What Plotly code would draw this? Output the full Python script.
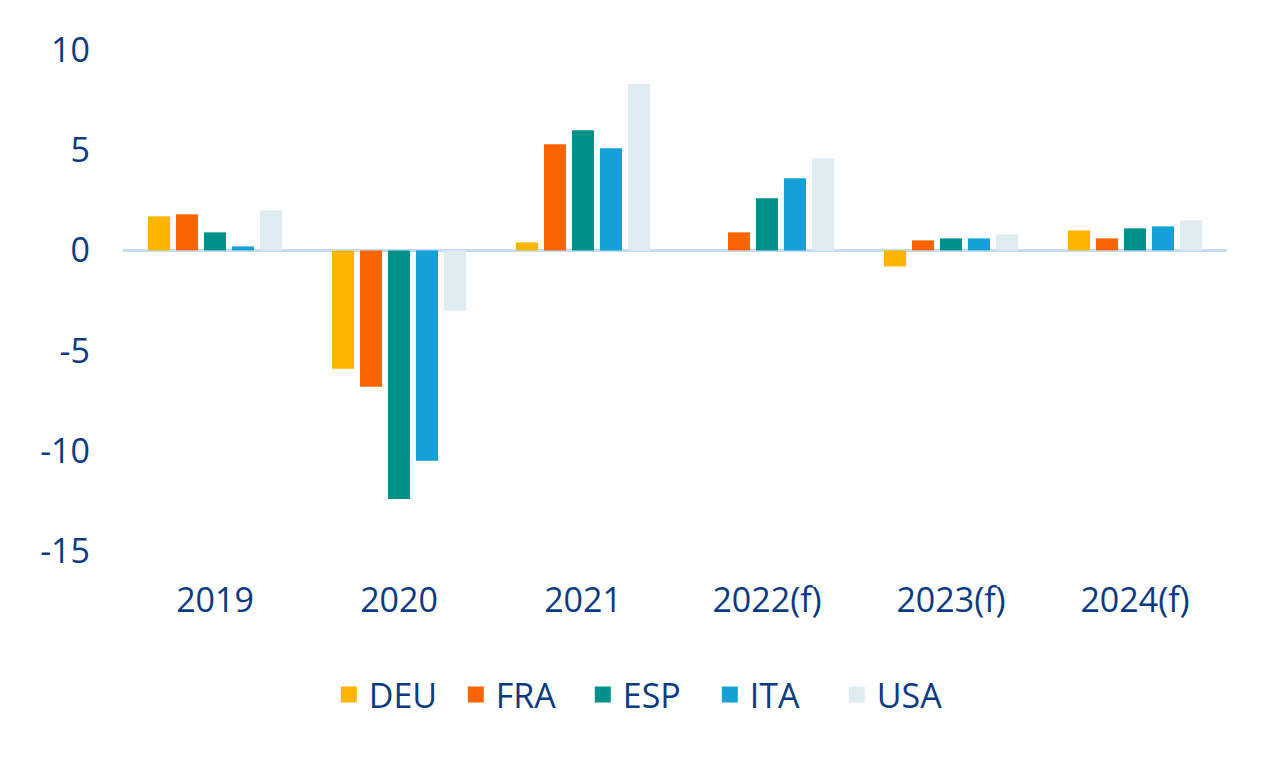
import plotly.graph_objects as go

categories = ["2019", "2020", "2021", "2022(f)", "2023(f)", "2024(f)"]
deu = [1.7, -5.9, 0.4, 0.0, -0.8, 1.0]
fra = [1.8, -6.8, 5.3, 0.9, 0.5, 0.6]
esp = [0.9, -12.4, 6.0, 2.6, 0.6, 1.1]
ita = [0.2, -10.5, 5.1, 3.6, 0.6, 1.2]
usa = [2.0, -3.0, 8.3, 4.6, 0.8, 1.5]
series_names = ["DEU", "FRA", "ESP", "ITA", "USA"]
colors = ["#FDB600", "#F96300", "#00918A", "#13A1D6", "#DFEDF3"]
y_ticks = [10, 5, 0, -5, -10, -15]
y_ticktext = ["10", "5", "0", "-5", "-10", "-15"]

TEXT = "#0A3A82"
FONT = "Open Sans"
FS = 34

fig = go.Figure()
for name, vals, col in zip(series_names, [deu, fra, esp, ita, usa], colors):
    fig.add_trace(go.Bar(x=categories, y=vals, name=name, marker_color=col,
                         marker_line_width=0, showlegend=False))
# legend proxies with larger square swatches
for name, col in zip(series_names, colors):
    fig.add_trace(go.Scatter(x=[None], y=[None], mode="markers", name=name,
                             marker=dict(symbol="square", size=20, color=col)))

fig.update_layout(
    width=1277, height=762,
    barmode="group", bargap=0.24, bargroupgap=0.21,
    plot_bgcolor="white", paper_bgcolor="white",
    margin=dict(l=123, r=50, t=50, b=211),
    font=dict(family=FONT, size=FS, color=TEXT),
    showlegend=True,
    legend=dict(orientation="h", x=0.474, xanchor="center", y=-0.287, yanchor="middle",
                entrywidth=82, entrywidthmode="pixels",
                font=dict(family=FONT, size=FS, color=TEXT), itemclick=False),
    xaxis=dict(showgrid=False, showline=False, ticks="", ticklabelstandoff=26,
               tickfont=dict(family=FONT, size=FS, color=TEXT)),
    yaxis=dict(range=[-15, 10], tickvals=y_ticks, ticktext=y_ticktext,
               showgrid=False, showline=False,
               zeroline=True, zerolinecolor="#C5DCF5", zerolinewidth=3,
               ticklabelstandoff=32, tickfont=dict(family=FONT, size=FS, color=TEXT)),
)

fig.write_html("out.html")
